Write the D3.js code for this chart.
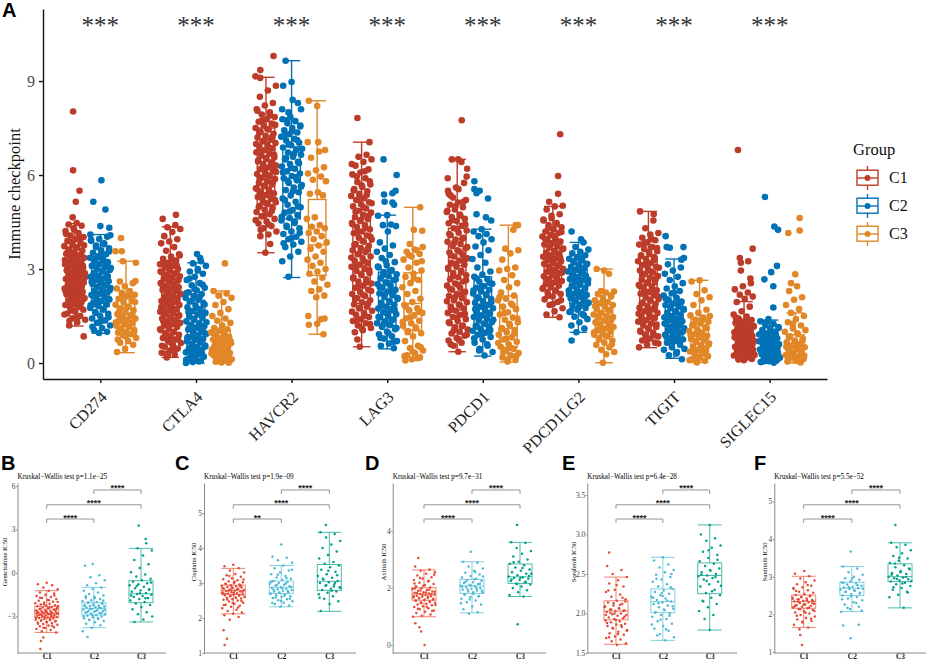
<!DOCTYPE html>
<html>
<head>
<meta charset="utf-8">
<style>body { margin: 0; background: #fff; }</style>
<script src="https://d3js.org/d3.v7.min.js"></script>
</head>
<body>
<div id="chart"></div>
<script>
// categories
const genes = ["CD274", "CTLA4", "HAVCR2", "LAG3", "PDCD1", "PDCD1LG2", "TIGIT", "SIGLEC15"];
const groups = ["C1", "C2", "C3"];
const immuneTicks = [0, 3, 6, 9];

const CD274_C1 = [[8.03,-.16],[6.15,-.16],[5.5,.45],[5.15,.1],[4.65,-.2],4.47,4.42,4.38,4.3,4.21,4.15,4.07,4.02,3.95,3.9,3.84,3.78,3.73,3.69,3.62,3.58,3.53,3.49,3.44,3.4,3.36,3.32,3.27,3.24,3.2,3.15,3.12,3.08,3.04,3,2.97,2.93,2.89,2.86,2.82,2.78,2.75,2.71,2.68,2.64,2.6,2.57,2.53,2.49,2.46,2.42,2.38,2.34,2.31,2.27,2.23,2.19,2.15,2.11,2.07,2.03,1.98,1.94,1.89,1.85,1.8,1.75,1.7,1.64,1.58,1.5,1.43,1.38,1.3,1.2,[.85,.85],4.25,4.12,3.98,3.87,3.76,3.66,3.55,3.46,3.38,3.29,3.22,3.17,3.1,3.02,2.95,2.91,2.84,2.73,2.66,2.55,2.44,2.36,2.29,2.21,2.13,2.05,1.96,1.87,1.78,1.67,1.55,1.46,1.35];
const CD274_C2 = [[5.83,.1],[5.15,-.67],[4.9,.48],[4.37,0],[4.32,.85],[4.1,-.95],[4.08,.95],4.03,3.96,3.9,3.82,3.75,3.66,3.6,3.52,3.47,3.41,3.36,3.31,3.25,3.21,3.16,3.1,3.06,3.01,2.97,2.92,2.87,2.83,2.78,2.75,2.7,2.65,2.61,2.57,2.52,2.48,2.43,2.39,2.35,2.3,2.26,2.21,2.17,2.12,2.08,2.03,1.98,1.92,1.87,1.82,1.76,1.7,1.63,1.57,1.5,1.42,1.36,1.28,1.2,1.12,1.05,1,.96,3.93,3.79,3.7,3.56,3.44,3.33,3.23,3.13,3.03,2.94,2.85,2.76,2.67,2.59,2.5,2.41,2.32,2.23,2.14,2.05,1.95,1.84,1.73,1.6,1.46,1.32,1.16];
const CD274_C3 = [[3.99,-.47],[3.57,-1],[3.57,-.4],3.25,3.2,[2.62,.9],2.6,2.55,2.45,2.38,2.3,2.24,2.18,2.12,2.05,1.98,1.93,1.86,1.8,1.75,1.68,1.62,1.56,1.52,1.47,1.42,1.38,1.33,1.28,1.24,1.19,1.15,1.1,1.05,1,.97,.92,.88,.8,.7,.65,.58,.45,.35,2.2,2.1,1.95,1.77,1.6,1.49,1.4,1.3,1.17,1.08,.95,.85,.75];
const CTLA4_C1 = [[4.73,.53],[4.6,-.73],4.4,4.33,4.28,4.18,4.05,3.95,3.88,3.82,3.7,3.58,3.47,3.4,3.33,3.27,3.2,3.15,3.1,3.05,3,2.95,2.9,2.86,2.81,2.77,2.72,2.68,2.63,2.59,2.55,2.5,2.46,2.42,2.37,2.33,2.29,2.24,2.2,2.16,2.12,2.07,2.03,1.98,1.94,1.9,1.85,1.81,1.77,1.72,1.68,1.64,1.6,1.55,1.5,1.46,1.42,1.37,1.33,1.28,1.24,1.2,1.15,1.1,1.05,1,.96,.9,.85,.8,.75,.7,.64,.58,.52,.46,.4,.33,.27,.18,3.43,3.3,3.23,3.12,3.02,2.92,2.83,2.74,2.65,2.57,2.48,2.39,2.31,2.22,2.14,2.05,1.96,1.87,1.79,1.7,1.62,1.52,1.44,1.35,1.26,1.18,1.08,.98,.88,.78,.67,.55,.43,.3];
const CTLA4_C2 = [[3.48,.1],[3.35,.4],3.25,3.18,3.1,3,2.92,2.85,2.75,2.65,2.55,2.48,2.4,2.32,2.26,2.2,2.14,2.08,2.02,1.96,1.9,1.84,1.78,1.72,1.66,1.6,1.55,1.49,1.44,1.38,1.33,1.27,1.22,1.17,1.12,1.07,1.02,.97,.93,.88,.83,.78,.74,.69,.65,.6,.56,.51,.47,.42,.38,.34,.29,.25,.2,.16,.12,.07,.03,[0,-.95],2.95,2.7,2.5,2.36,2.23,2.11,1.99,1.87,1.75,1.63,1.52,1.41,1.3,1.19,1.09,.99,.9,.81,.71,.62,.53,.44,.36,.27,.18,.1,.05];
const CTLA4_C3 = [[3.18,.32],2.3,2.22,2.15,2.08,1.95,1.85,1.72,1.6,1.5,1.42,1.35,1.28,1.2,1.12,1.08,1.03,.98,.94,.89,.84,.8,.75,.71,.67,.63,.59,.55,.51,.47,.43,.39,.35,.32,.28,.24,.2,.16,.12,.08,.04,.01,1.05,.96,.86,.77,.69,.61,.53,.45,.37,.3,.22,.14,.06,.02];
const HAVCR2_C1 = [[9.8,.72],[9.35,-.54],[9.15,-1],[9.1,-.55],8.85,8.7,8.5,8.3,8.22,8.1,8,7.93,7.85,7.78,7.7,7.64,7.58,7.5,7.45,7.38,7.32,7.25,7.2,7.13,7.07,7.02,6.96,6.9,6.85,6.79,6.73,6.68,6.62,6.57,6.51,6.46,6.41,6.35,6.3,6.24,6.19,6.13,6.08,6.03,5.97,5.92,5.87,5.81,5.75,5.7,5.64,5.58,5.53,5.47,5.42,5.36,5.3,5.24,5.18,5.13,5.07,5.01,4.95,4.89,4.82,4.75,4.68,4.6,4.52,4.45,4.37,4.3,4.2,4.1,4.05,[3.8,.4],3.52,8.05,7.9,7.75,7.6,7.47,7.35,7.22,7.1,6.99,6.87,6.76,6.65,6.54,6.43,6.32,6.21,6.1,5.99,5.89,5.78,5.67,5.55,5.44,5.33,5.21,5.1,4.98,4.85,4.7,4.56,4.42,4.25];
const HAVCR2_C2 = [[9.65,-.57],[8.97,0],[8.85,-.8],[8.4,.1],[8.3,.6],[8.1,-.9],[8.1,.9],[8,-.3],7.85,7.78,7.72,7.65,7.58,7.5,7.43,7.36,7.3,7.22,7.16,7.1,7.03,6.95,6.88,6.8,6.72,6.65,6.58,6.5,6.42,6.35,6.27,6.2,6.12,6.05,5.97,5.9,5.83,5.75,5.68,5.6,5.52,5.45,5.35,5.25,5.15,5.05,4.97,4.88,4.8,4.72,4.63,4.55,4.47,4.38,4.3,4.2,4.12,4.03,3.95,3.87,3.78,3.7,3.55,3.4,3.25,[2.75,-.3],7.75,7.55,7.4,7.25,7.12,6.98,6.84,6.68,6.54,6.38,6.23,6.08,5.93,5.79,5.63,5.48,5.2,5,4.84,4.67,4.5,4.34,4.16,3.99,3.82];
const HAVCR2_C3 = [[8.37,-.8],[8.2,0],[7.05,-.9],[7.05,.1],[6.8,.75],6.75,6.55,6.25,6.15,6.05,5.95,5.85,5.8,5.45,5.4,5.35,4.65,4.6,4.4,4.35,4.3,4.2,4.15,4.05,3.95,3.85,3.75,3.65,3.55,3.4,3.3,3.2,3.1,3,2.92,2.85,2.72,2.6,2.5,2.35,2.3,2.15,2.1,1.5,1.4,[1.22,-.8],[1.25,0],[1.42,.7],[.92,.6]];
const LAG3_C1 = [[7.82,-.4],[7.05,.75],6.65,6.58,6.5,6.42,6.3,6.18,6.08,6.02,5.9,5.78,5.7,5.62,5.55,5.48,5.4,5.33,5.26,5.2,5.13,5.07,5,4.93,4.86,4.8,4.73,4.66,4.6,4.53,4.47,4.4,4.34,4.27,4.2,4.14,4.07,4,3.94,3.87,3.8,3.74,3.67,3.6,3.54,3.47,3.4,3.34,3.27,3.2,3.14,3.07,3,2.94,2.87,2.8,2.74,2.67,2.6,2.54,2.47,2.4,2.34,2.27,2.2,2.14,2.07,2,1.94,1.87,1.8,1.74,1.67,1.6,1.54,1.47,1.4,1.34,1.27,1.2,1.12,1.05,.98,[.75,-.4],.52,6.35,6.12,5.95,5.8,5.67,5.51,5.36,5.23,5.1,4.97,4.83,4.7,4.56,4.43,4.3,4.17,4.03,3.9,3.77,3.63,3.5,3.37,3.24,3.1,2.97,2.84,2.7,2.57,2.44,2.3,2.17,2.04,1.9,1.77,1.64,1.5,1.37,1.24,1.1];
const LAG3_C2 = [[6.5,-.35],[6,.9],[5.5,.8],[5.42,.5],[5.38,-.3],[5.15,-.25],[5.12,.5],5.05,[4.72,0],4.7,4.42,4.4,4.37,4.2,3.85,3.75,3.65,3.55,3.45,3.35,3.22,3.12,3.05,2.97,2.9,2.83,2.77,2.7,2.64,2.58,2.52,2.46,2.4,2.34,2.28,2.22,2.16,2.1,2.04,1.98,1.92,1.86,1.8,1.74,1.68,1.62,1.56,1.5,1.45,1.39,1.33,1.27,1.21,1.15,1.08,1,.92,.85,.78,.7,.62,.55,.47,3.25,3.08,2.94,2.8,2.67,2.55,2.43,2.31,2.19,2.07,1.95,1.83,1.71,1.59,1.47,1.36,1.24,1.12,.95,.8,.67];
const LAG3_C3 = [[4.97,.7],[4.25,.1],[4.22,.9],3.8,3.7,3.62,3.55,3.48,3.4,3.3,3.2,3.05,2.95,2.85,2.75,2.65,2.55,2.42,2.3,2.2,2.05,1.95,1.85,1.75,1.68,1.6,1.52,1.43,1.35,1.27,1.18,1.1,1.02,.95,.85,.7,.55,.48,.4,.32,.25,.18,.12,[.08,-.7],3.6,3.45,3.25,2.7,1.8,1.64,1.47,1.31,1.14,.98,.5,.36,.22,.15];
const PDCD1_C1 = [[7.75,.43],[6.5,-.5],[6.5,.1],[6.42,.4],6.2,[5.95,.9],[5.9,-.9],5.75,5.6,5.5,[5.4,-.8],5.28,5.2,5.12,5.05,4.97,4.9,4.82,4.74,4.66,4.6,4.53,4.46,4.38,4.3,4.23,4.16,4.08,4,3.94,3.87,3.8,3.73,3.66,3.6,3.53,3.47,3.4,3.34,3.27,3.2,3.14,3.07,3,2.94,2.87,2.8,2.74,2.67,2.6,2.54,2.47,2.4,2.34,2.27,2.2,2.14,2.07,2,1.94,1.87,1.8,1.74,1.67,1.6,1.54,1.47,1.4,1.34,1.27,1.2,1.14,1.07,1,.94,.87,.8,.72,.65,.55,[.36,.1],5.55,5.35,5.15,5,4.86,4.7,4.56,4.42,4.27,4.12,3.97,3.84,3.7,3.56,3.43,3.3,3.17,3.04,2.9,2.77,2.64,2.5,2.37,2.24,2.1,1.97,1.84,1.7,1.57,1.44,1.3,1.17,1.04,.9,.76,.6];
const PDCD1_C2 = [[5.8,-.8],[5.55,-.8],[5.5,-.3],[5.42,-.6],[5.25,.5],[4.75,-.6],[4.65,.3],[4.55,.8],4.27,4.2,4.12,4.05,3.95,3.85,3.72,3.6,3.45,3.32,3.2,3.05,2.92,2.82,2.75,2.68,2.6,2.53,2.46,2.4,2.34,2.28,2.22,2.16,2.1,2.04,1.98,1.92,1.86,1.8,1.75,1.69,1.63,1.58,1.52,1.47,1.41,1.36,1.3,1.25,1.19,1.14,1.08,1.03,.97,.9,.83,.75,.65,.55,.45,.35,.24,2.7,2.56,2.43,2.31,2.19,2.07,1.95,1.83,1.72,1.6,1.49,1.38,1.27,1.16,1.05,.93,.79,.6,.4];
const PDCD1_C3 = [[4.4,.7],[4.4,.9],4.25,3.65,3.6,3.5,3.3,3.05,3,2.95,2.8,2.65,2.55,2.42,2.25,2.15,2.05,2,1.9,1.8,1.72,1.62,1.55,1.45,1.38,1.3,1.2,1.12,1.05,.98,.9,.82,.75,.68,.6,.52,.45,.38,.32,.25,.18,.1,.05,2.1,1.85,1.6,1.42,1.25,1.08,.94,.78,.64,.48,.35,.22,.12];
const PDCD1LG2_C1 = [[7.3,.7],[5.97,.5],[5.4,.5],[5.15,-.35],5.02,5,4.9,4.75,4.62,4.55,4.47,4.4,4.33,4.27,4.2,4.15,4.09,4.04,3.98,3.93,3.88,3.83,3.78,3.73,3.68,3.63,3.58,3.53,3.48,3.44,3.39,3.34,3.29,3.25,3.2,3.15,3.1,3.06,3.01,2.96,2.91,2.87,2.82,2.77,2.72,2.67,2.62,2.57,2.52,2.47,2.42,2.37,2.32,2.26,2.2,2.12,2.03,1.95,1.85,1.75,1.65,1.55,1.46,4.7,4.58,4.43,4.3,4.18,4.06,3.96,3.85,3.75,3.65,3.55,3.46,3.36,3.27,3.17,3.08,2.98,2.89,2.79,2.69,2.59,2.49,2.39,2.29,2.15,2,1.88];
const PDCD1LG2_C2 = [[4.2,-.65],[3.95,.25],3.85,3.7,3.62,3.55,3.5,3.44,3.38,3.33,3.28,3.22,3.17,3.12,3.07,3.02,2.97,2.92,2.87,2.83,2.78,2.73,2.68,2.64,2.59,2.54,2.5,2.45,2.4,2.36,2.31,2.26,2.21,2.17,2.12,2.07,2.02,1.97,1.92,1.87,1.82,1.76,1.7,1.63,1.56,1.48,1.4,1.3,1.2,1.1,.98,[.72,-.65],3.35,3.25,3.14,3.04,2.94,2.85,2.75,2.66,2.56,2.47,2.38,2.28,2.19,2.09,2,1.89,1.79,1.66,1.52];
const PDCD1LG2_C3 = [[3,-.7],[2.95,0],2.85,2.3,2.28,2.25,2.2,2.15,2.08,2,1.95,1.9,1.85,1.8,1.73,1.67,1.6,1.55,1.5,1.45,1.4,1.35,1.3,1.25,1.2,1.15,1.1,1.05,1,.95,.9,.85,.8,.72,.65,.58,.5,.42,.35,.28,[.01,-.1],2.12,1.98,1.82,1.7,1.57,1.47,1.37,1.27,1.17,1.07,.97,.87,.75,.6];
const TIGIT_C1 = [[4.84,-.8],[4.75,.5],4.55,4.3,4.15,4.1,4,3.92,3.85,3.78,3.7,3.64,3.57,3.5,3.44,3.38,3.31,3.25,3.19,3.13,3.07,3.01,2.95,2.89,2.84,2.78,2.72,2.66,2.61,2.55,2.49,2.44,2.38,2.32,2.27,2.21,2.16,2.1,2.04,1.99,1.93,1.88,1.82,1.76,1.71,1.65,1.6,1.54,1.49,1.43,1.37,1.32,1.26,1.2,1.15,1.09,1.03,.97,.91,.85,.78,.72,.65,.58,.5,3.95,3.81,3.67,3.54,3.41,3.28,3.16,3.04,2.92,2.81,2.69,2.58,2.46,2.35,2.24,2.13,2.02,1.9,1.79,1.68,1.57,1.46,1.35,1.23,1.12,1,.88,.75,.62];
const TIGIT_C2 = [[4.05,-.8],[3.7,-.7],[3.68,-.4],[3.7,.9],3.35,[3.3,.7],3.15,3.05,2.95,2.85,2.75,2.65,2.55,2.45,2.38,2.3,2.22,2.15,2.08,2.02,1.96,1.9,1.85,1.8,1.75,1.7,1.65,1.6,1.55,1.5,1.46,1.41,1.37,1.33,1.28,1.24,1.2,1.15,1.11,1.07,1.03,.98,.94,.9,.85,.8,.75,.7,.65,.58,.5,.42,.35,.25,.12,2.25,2.05,1.92,1.82,1.72,1.62,1.52,1.43,1.35,1.26,1.17,1.09,1,.92,.83,.72,.6,.45,.3];
const TIGIT_C3 = [2.64,2.6,2.32,2.2,2.1,2,1.85,1.7,1.6,1.52,1.45,1.38,1.32,1.26,1.2,1.14,1.08,1.02,.97,.92,.87,.82,.77,.72,.67,.62,.57,.52,.47,.42,.37,.32,.27,.22,.17,.12,.07,.02,1.5,1.35,1.23,1.11,.99,.89,.79,.69,.59,.49,.39,.29,.19,.09];
const SIGLEC15_C1 = [[6.8,-.58],[3.65,.82],[3.35,-.4],[3.25,.4],[3.2,-.3],[2.95,-.3],[2.7,.6],2.55,2.45,2.35,2.25,2.18,2.12,2.05,1.95,1.8,1.65,1.55,1.48,1.42,1.37,1.32,1.28,1.24,1.2,1.16,1.12,1.09,1.05,1.01,.98,.94,.91,.87,.84,.8,.77,.73,.7,.66,.63,.59,.56,.52,.49,.45,.42,.38,.35,.31,.28,.24,.21,.17,.13,.09,1.45,1.34,1.26,1.18,1.1,1.03,.96,.89,.82,.75,.68,.61,.54,.47,.4,.33,.26,.19,.11];
const SIGLEC15_C2 = [[5.3,-.45],[4.36,.45],[4.25,.8],[3.1,.7],[2.9,.15],[2.67,-.5],[2.45,.35],[1.77,.35],1.4,1.33,1.25,1.2,1.15,1.1,1.05,1,.95,.91,.87,.83,.79,.75,.71,.67,.64,.6,.57,.53,.5,.46,.43,.4,.36,.33,.3,.27,.24,.21,.18,.15,.12,.09,.06,.03,.01,1.28,1.12,1.02,.93,.85,.77,.69,.62,.55,.48,.41,.35,.29,.22,.16,.1,.05];
const SIGLEC15_C3 = [[4.63,.42],[4.23,.42],[4.15,-.66],[2.83,0],[2.55,-.4],2.45,2.3,2.1,2.02,1.85,1.72,1.6,1.5,1.4,1.3,1.2,1.1,1,.92,.85,.78,.72,.66,.6,.55,.5,.45,.4,.35,.3,.25,.21,.17,.13,.09,.05,.02,1.25,1.05,.95,.82,.7,.63,.52,.42,.33,.23,.15,.07];

const immunePoints = [
  [CD274_C1, CD274_C2, CD274_C3], [CTLA4_C1, CTLA4_C2, CTLA4_C3],
  [HAVCR2_C1, HAVCR2_C2, HAVCR2_C3], [LAG3_C1, LAG3_C2, LAG3_C3],
  [PDCD1_C1, PDCD1_C2, PDCD1_C3], [PDCD1LG2_C1, PDCD1LG2_C2, PDCD1LG2_C3],
  [TIGIT_C1, TIGIT_C2, TIGIT_C3], [SIGLEC15_C1, SIGLEC15_C2, SIGLEC15_C3]
];

// panel A boxes: low whisker, q1, median, q3, high whisker
const immuneBoxes = [
  [[1.18,2,2.6,3.4,4.45],[.95,1.8,2.5,3.3,4.1],[.33,1,1.45,2.1,3.25]],
  [[.18,1.2,2,2.9,4.35],[0,.5,1.05,2,3.2],[0,.3,.65,1.05,2.3]],
  [[3.52,5.05,6.25,7.5,9.12],[2.73,4.6,5.9,6.9,9.65],[.92,2.8,3.77,5.22,8.37]],
  [[.52,1.9,3.1,4.6,7.05],[.45,1.2,1.8,2.9,4.72],[.1,1.05,1.9,2.88,4.97]],
  [[.36,1.7,3.1,4.3,6.5],[.22,.95,1.5,2.75,4.27],[.03,.5,1.1,2.14,4.4]],
  [[1.46,2.6,3.2,3.9,5],[.98,1.9,2.45,3,3.85],[.01,.85,1.3,1.9,3]],
  [[.49,1.4,2.5,3.4,4.84],[.15,.8,1.3,1.95,3.32],[.02,.35,.75,1.4,2.64]],
  [[.1,.5,.9,1.35,1.96],[0,.3,.6,.95,1.37],[0,.2,.45,.9,1.6]]
];

// drug panels
const panelLetters = ["B", "C", "D", "E", "F"];
const drugTitles = ["Gemcitabine IC50", "Cisplatin IC50", "Axitinib IC50", "Sorafenib IC50", "Sunitinib IC50"];
const drugTests = ["p=1.1e\u221225", "p=1.9e\u221209", "p=9.7e\u221231", "p=6.4e\u221228", "p=5.5e\u221252"];
const drugDomains = [[-5.52, 6.21], [1, 5.86], [-.28, 5.68], [1.5, 3.65], [.97, 5.49]];
const drugTicks = [[-3, 0, 3, 6], [1, 2, 3, 4, 5], [0, 2, 4], [1.5, 2, 2.5, 3, 3.5], [1, 2, 3, 4, 5]];
const drugSignif = [
  ["****", "****", "****"], ["**", "****", "****"], ["****", "****", "****"],
  ["****", "****", "****"], ["****", "****", "****"]
];
const comparisons = [["C1", "C2"], ["C1", "C3"], ["C2", "C3"]];

const B_C1 = [-.68,-.78,-.85,-1,-1.12,-1.22,-1.35,-1.42,-1.5,-1.58,-1.65,-1.72,-1.8,-1.86,-1.92,-1.98,-2.03,-2.08,-2.13,-2.18,-2.22,-2.26,-2.3,-2.34,-2.38,-2.41,-2.45,-2.48,-2.52,-2.55,-2.58,-2.61,-2.64,-2.67,-2.7,-2.73,-2.76,-2.78,-2.8,-2.83,-2.86,-2.89,-2.92,-2.95,-2.98,-3.01,-3.04,-3.07,-3.1,-3.14,-3.18,-3.22,-3.26,-3.3,-3.34,-3.38,-3.42,-3.47,-3.52,-3.57,-3.62,-3.68,-3.74,-3.8,-3.87,-3.94,-4.02,-4.1,[-4.45,-.3],[-4.7,-.5],[-5.25,-.55],-2.15,-2.28,-2.39,-2.46,-2.53,-2.6,-2.65,-2.71,-2.75,-2.81,-2.85,-2.9,-2.96,-3.03,-3.09,-3.16,-3.24,-3.32,-3.4,-3.5,-3.65,-3.78,-2,-1.88,-1.7,-1.55,-2.68,-2.79,-2.87,-2.94,-2.5,-2.43];
const B_C2 = [[.62,-.1],.5,-.15,-.3,-.5,-.7,-.85,-1,-1.1,-1.22,-1.35,-1.45,-1.55,-1.65,-1.72,-1.8,-1.88,-1.94,-2,-2.05,-2.1,-2.15,-2.2,-2.24,-2.28,-2.32,-2.36,-2.4,-2.44,-2.48,-2.52,-2.56,-2.6,-2.64,-2.68,-2.72,-2.76,-2.8,-2.85,-2.9,-2.95,-3,-3.06,-3.12,-3.18,-3.25,-3.32,-3.4,-3.5,-3.6,-3.77,-4.02,[-4.42,-.55],-2.02,-2.12,-2.22,-2.3,-2.38,-2.46,-2.54,-2.62,-2.7,-2.78,-2.88,-2.98,-3.1,-3.22,-1.9,-1.75,-1.6];
const B_C3 = [[3.28,-.2],[2.35,.4],[2.05,.45],1.7,1.55,1.2,.9,.6,.35,.05,-.1,-.25,-.4,-.5,-.6,-.7,-.78,-.85,-.95,-1.05,-1.12,-1.2,-1.3,-1.38,-1.45,-1.5,-1.58,-1.65,-1.72,-1.8,-1.9,-2,-2.1,-2.2,-2.35,-2.5,-2.7,-2.85,-3,-3.2,-3.38,-1.15,-1.4,-1.55,-1.75,-.9,-.65];
const C_C1 = [3.52,3.48,3.42,3.36,3.3,3.26,3.22,3.18,3.14,3.11,3.08,3.05,3.02,3,2.98,2.96,2.94,2.92,2.9,2.89,2.87,2.86,2.84,2.83,2.81,2.8,2.79,2.77,2.76,2.74,2.73,2.71,2.7,2.68,2.67,2.65,2.64,2.62,2.61,2.59,2.58,2.56,2.54,2.52,2.5,2.47,2.44,2.41,2.38,2.35,2.32,2.28,2.24,2.2,2.16,2.12,2.08,2.03,1.95,[1.65,-.85],[1.41,-.55],[1.23,-.75],2.93,2.88,2.85,2.82,2.78,2.75,2.72,2.69,2.66,2.63,2.6,2.57,2.53,2.49,2.43,2.37,2.3,3.2,3.1,3.04,2.97,2.91,2.81,2.71];
const C_C2 = [[4.1,0],3.75,3.72,3.65,3.58,3.5,3.42,3.36,3.3,3.25,3.2,3.16,3.12,3.09,3.06,3.03,3,2.98,2.95,2.93,2.91,2.88,2.86,2.84,2.82,2.8,2.78,2.76,2.74,2.72,2.7,2.67,2.65,2.62,2.6,2.57,2.54,2.51,2.48,2.44,2.4,2.36,2.32,3.04,2.99,2.94,2.89,2.85,2.81,2.77,2.73,2.69,2.64,2.59,2.55,2.49,2.43,3.14,3.24,3.38];
const C_C3 = [[4.66,-.3],4.45,4.4,4.3,4.2,4.1,4,3.9,3.8,3.7,3.6,3.55,3.5,3.45,3.38,3.32,3.25,3.2,3.15,3.1,3.06,3.02,3,2.96,2.92,2.88,2.84,2.8,2.76,2.72,2.68,2.62,2.55,2.48,2.4,2.2,3.01,2.94,2.86,2.78,3.12,3.22,3.35,2.58,2.9];
const D_C1 = [[3.05,-.5],2.75,2.65,2.6,2.55,2.5,2.44,2.38,2.33,2.28,2.23,2.18,2.14,2.1,2.06,2.02,1.99,1.96,1.93,1.9,1.88,1.85,1.83,1.81,1.79,1.77,1.75,1.73,1.71,1.69,1.67,1.65,1.63,1.6,1.58,1.56,1.53,1.5,1.48,1.45,1.42,1.39,1.36,1.33,1.29,1.25,1.21,1.17,1.12,1.07,1.03,.99,[.76,-.75],[.62,-.4],[.47,-.25],[0,.05],1.98,1.94,1.91,1.87,1.84,1.82,1.78,1.76,1.72,1.7,1.66,1.62,1.59,1.55,1.51,1.46,1.4,1.34,1.27,1.19,2.08,2.16,2.25,2.35,2.46];
const D_C2 = [[3.27,-.1],2.92,2.88,2.75,2.68,2.6,2.53,2.47,2.42,2.37,2.32,2.28,2.24,2.2,2.17,2.14,2.11,2.08,2.06,2.03,2,1.97,1.94,1.91,1.88,1.84,1.8,1.76,1.72,1.68,1.62,1.56,1.5,1.42,1.35,1.25,1.15,1.1,2.4,2.3,2.22,2.15,2.09,2.04,1.99,1.95,1.9,1.85,1.78,1.7,1.6,1.46,2.56];
const D_C3 = [[4.21,-.25],3.6,3.58,3.4,3.3,3.2,3.1,3,2.92,2.85,2.8,2.72,2.65,2.6,2.55,2.5,2.45,2.4,2.38,2.35,2.32,2.28,2.24,2.2,2.16,2.12,2.05,2,1.92,1.85,1.75,1.7,[.73,-.2],2.42,2.36,2.3,2.22,2.14,2.5,2.7,2.9];
const E_C1 = [[2.77,-.6],2.6,2.55,2.5,2.46,2.42,2.38,2.34,2.3,2.27,2.24,2.21,2.18,2.16,2.14,2.12,2.1,2.08,2.07,2.05,2.04,2.03,2.02,2,1.99,1.98,1.97,1.95,1.94,1.93,1.91,1.9,1.89,1.87,1.86,1.84,1.83,1.81,1.79,1.77,1.75,1.73,1.71,1.69,1.67,1.65,1.62,1.6,2.29,2.2,2.13,2.09,2.06,2.01,1.96,1.92,1.88,1.85,1.82,1.78,1.74,1.7,2.03,2,1.98,2.11,2.05,2.15,2.36];
const E_C2 = [2.71,2.67,2.62,2.58,2.55,2.52,2.49,2.46,2.43,2.4,2.37,2.34,2.31,2.29,2.27,2.25,2.23,2.21,2.19,2.17,2.15,2.14,2.12,2.1,2.08,2.06,2.04,2.02,2,1.98,1.96,1.93,1.9,1.87,1.84,1.81,1.78,1.74,1.7,1.66,2.44,2.33,2.26,2.2,2.16,2.13,2.09,2.05,2.01,1.97,1.92,1.86,1.8,1.72,2.5,2.22];
const E_C3 = [3.12,3,2.95,2.92,2.86,2.83,2.78,2.74,2.7,2.66,2.63,2.6,2.57,2.54,2.52,2.5,2.48,2.47,2.45,2.43,2.4,2.37,2.34,2.3,2.26,2.23,2.2,2.16,2.12,2.08,2.03,1.98,1.93,[1.79,0],2.55,2.49,2.46,2.41,2.35,2.28,2.15,2.68,2.8];
const F_C1 = [[3.15,.05],3.08,3.01,2.95,2.9,2.85,2.8,2.76,2.72,2.68,2.64,2.6,2.57,2.54,2.51,2.48,2.46,2.44,2.42,2.4,2.38,2.36,2.34,2.32,2.3,2.28,2.26,2.24,2.22,2.2,2.18,2.16,2.14,2.11,2.08,2.05,2.02,1.98,1.94,1.9,1.86,1.82,1.78,1.72,1.65,1.6,[1.45,-.3],[1.18,-.15],2.62,2.5,2.45,2.41,2.37,2.33,2.29,2.25,2.21,2.17,2.13,2.09,2.04,1.96,1.88,1.8,2.7,2.78,2.39,2.35,2.27,2.23];
const F_C2 = [[3.67,-.1],3.27,3.22,3.12,3.05,3,2.96,2.92,2.88,2.85,2.82,2.79,2.76,2.73,2.71,2.69,2.67,2.65,2.62,2.6,2.57,2.54,2.5,2.46,2.42,2.37,2.32,2.26,2.2,2.14,2.07,[1.7,-.75],[1.72,.6],[1.36,-.1],2.95,2.83,2.77,2.72,2.68,2.64,2.59,2.55,2.48,2.4,2.3,2.17,2.1];
const F_C3 = [[4.37,-.4],3.9,3.85,3.78,3.7,3.62,3.55,3.48,3.42,3.36,3.3,3.25,3.2,3.15,3.1,3.07,3.03,3,2.98,2.96,2.93,2.9,2.87,2.84,2.8,2.75,2.7,2.65,2.6,2.52,2.45,2.17,3.35,3.22,3.12,3.05,2.99,2.94,2.88,2.82,2.72,2.58,3.5];

const drugPoints = [[B_C1, B_C2, B_C3], [C_C1, C_C2, C_C3], [D_C1, D_C2, D_C3], [E_C1, E_C2, E_C3], [F_C1, F_C2, F_C3]];
const drugBoxes = [
  [[-4.1,-3.08,-2.78,-2.3,-1.22],[-3.77,-2.9,-2.44,-2.05,-.99],[-3.38,-2.05,-1.43,-.53,1.7]],
  [[2.12,2.67,2.78,2.94,3.42],[2.32,2.7,2.88,3.06,3.5],[2.19,2.79,3.05,3.53,4.45]],
  [[.99,1.57,1.79,2.01,2.63],[1.13,1.81,2.07,2.3,2.92],[1.7,2.16,2.39,2.84,3.6]],
  [[1.61,1.92,2.03,2.16,2.46],[1.66,2.01,2.15,2.31,2.71],[1.79,2.25,2.48,2.64,3.12]],
  [[1.65,2.16,2.34,2.51,3.01],[2.07,2.5,2.69,2.85,3.27],[2.17,2.87,3,3.34,3.9]]
];

// colours
const immuneColor = d3.scaleOrdinal().domain(groups).range(["#BC3C29", "#0072B5", "#E18727"]);
const drugColor = d3.scaleOrdinal().domain(groups).range(["#E64B35", "#4DBBD5", "#00A087"]);

const serif = "'Liberation Serif', serif";

const svg = d3.select("#chart")
  .append("svg")
  .attr("width", 927)
  .attr("height", 664)
  .style("display", "block")
  .style("background", "#fff");

// value of a point and its sideways spread (-1 to 1); points with no read jitter get a fixed spread by index
const pointValue = d => Array.isArray(d) ? d[0] : d;
const pointJitter = (d, i) => Array.isArray(d) ? d[1] : ((i * 0.618034 + 0.5) % 1) * 2 - 1;

// one box with whiskers, caps are left out in the legend keys
const drawBox = (g, cx, stats, y, color, width, lineWidth, opacity, caps = true) => {
  const [low, q1, median, q3, high] = stats;
  const box = g.append("g")
    .attr("fill", "none")
    .attr("stroke", color)
    .attr("stroke-width", lineWidth)
    .attr("stroke-opacity", opacity);
  box.append("line").attr("x1", cx).attr("x2", cx).attr("y1", y(q3)).attr("y2", y(high));
  box.append("line").attr("x1", cx).attr("x2", cx).attr("y1", y(q1)).attr("y2", y(low));
  (caps ? [low, high, median] : [median]).forEach(v => {
    box.append("line")
      .attr("x1", cx - width / 2).attr("x2", cx + width / 2)
      .attr("y1", y(v)).attr("y2", y(v));
  });
  box.append("rect")
    .attr("x", cx - width / 2).attr("y", y(q3))
    .attr("width", width).attr("height", y(q1) - y(q3));
};

// ---- panel A ----
const createImmunePanel = () => {
  const xScale = d3.scalePoint().domain(genes).range([43, 827]).padding(0.6);
  const yScale = d3.scaleLinear().domain([-0.51, 11.3]).range([379, 9]);
  const dodge = d3.scalePoint().domain(groups).range([-25.6, 25.6]);
  const jitter = d3.scaleLinear().domain([-1, 1]).range([-10.5, 10.5]);

  const g = svg.append("g");

  genes.forEach((gene, gi) => {
    groups.forEach((group, si) => {
      const cx = xScale(gene) + dodge(group);
      drawBox(g, cx, immuneBoxes[gi][si], yScale, immuneColor(group), 17.5, 1.4, 1);
      g.append("g")
        .selectAll("circle")
        .data(immunePoints[gi][si])
        .join("circle")
        .attr("cx", (d, i) => cx + jitter(pointJitter(d, i)))
        .attr("cy", d => yScale(pointValue(d)))
        .attr("r", 3.3)
        .attr("fill", immuneColor(group));
    });
    g.append("text")
      .attr("x", xScale(gene))
      .attr("y", yScale(10.5))
      .attr("text-anchor", "middle")
      .attr("font-family", serif)
      .attr("font-size", 25)
      .attr("fill", "#333")
      .text("***");
  });

  const yAxis = g.append("g")
    .attr("transform", "translate(43,0)")
    .call(d3.axisLeft(yScale).tickValues(immuneTicks).tickSize(4).tickSizeOuter(0).tickPadding(4));
  yAxis.selectAll("text").attr("font-family", serif).attr("font-size", 16).attr("fill", "#4d4d4d");

  const xAxis = g.append("g")
    .attr("transform", "translate(0,379)")
    .call(d3.axisBottom(xScale).tickSize(4).tickSizeOuter(0));
  xAxis.selectAll("text")
    .attr("font-family", serif)
    .attr("font-size", 16)
    .attr("fill", "#222")
    .attr("text-anchor", "end")
    .attr("dy", 0)
    .attr("y", 0)
    .attr("transform", "translate(7,19) rotate(-45)");

  [yAxis, xAxis].forEach(a => a.selectAll(".domain, line").attr("stroke", "#111").attr("stroke-width", 1.4));

  g.append("text")
    .attr("transform", "translate(20,194) rotate(-90)")
    .attr("text-anchor", "middle")
    .attr("font-family", serif)
    .attr("font-size", 16.5)
    .attr("fill", "#111")
    .text("Immune checkpoint");

  g.append("text")
    .attr("x", 2).attr("y", 17)
    .attr("font-family", "'Liberation Sans', sans-serif")
    .attr("font-weight", "bold")
    .attr("font-size", 20)
    .text("A");

  // legend
  const legendY = d3.scalePoint().domain(groups).range([178, 234]);
  const legend = g.append("g");
  legend.append("text")
    .attr("x", 853).attr("y", 155)
    .attr("font-family", serif).attr("font-size", 16.5).attr("fill", "#111")
    .text("Group");
  groups.forEach(group => {
    const ky = d3.scaleLinear().domain([-1, 1]).range([legendY(group) + 12, legendY(group) - 12]);
    drawBox(legend, 867.5, [-1, -0.6, 0, 0.65, 1], ky, immuneColor(group), 21, 1.4, 1, false);
    legend.append("circle")
      .attr("cx", 867.5).attr("cy", legendY(group)).attr("r", 3)
      .attr("fill", immuneColor(group));
    legend.append("text")
      .attr("x", 889).attr("y", legendY(group) + 5)
      .attr("font-family", serif).attr("font-size", 16).attr("fill", "#111")
      .text(group);
  });
};

// ---- panels B to F ----
const panelLeft = [17.5, 204, 392.7, 587.3, 774.3];
const panelRight = [166, 356, 546, 737, 926];
const panelFirst = [46.7, 233.3, 424, 616, 803.7];
const panelLast = [141, 329.3, 520, 709.7, 900];
const letterX = [1, 175, 365, 562, 754];
const drugTitleX = [7, 196, 385.5, 576, 766.5];
const panelTop = 483;
const panelBottom = 653;

const createDrugPanel = k => {
  const xScale = d3.scalePoint().domain(groups).range([panelFirst[k], panelLast[k]]);
  const yScale = d3.scaleLinear().domain(drugDomains[k]).range([panelBottom, panelTop]);
  const jitter = d3.scaleLinear().domain([-1, 1]).range([-11.5, 11.5]);
  const npc = d3.scaleLinear().domain([0, 1]).range([panelBottom, panelTop]);

  const g = svg.append("g");

  groups.forEach((group, si) => {
    const cx = xScale(group);
    drawBox(g, cx, drugBoxes[k][si], yScale, drugColor(group), 24, 1, 0.7);
    g.append("g")
      .selectAll("circle")
      .data(drugPoints[k][si])
      .join("circle")
      .attr("cx", (d, i) => cx + jitter(pointJitter(d, i)))
      .attr("cy", d => yScale(pointValue(d)))
      .attr("r", 1.25)
      .attr("fill", drugColor(group));
  });

  // significance brackets
  const levels = [0.788, 0.872, 0.959];
  comparisons.forEach((pair, c) => {
    const x1 = xScale(pair[0]);
    const x2 = xScale(pair[1]);
    const level = npc(levels[c]);
    g.append("path")
      .attr("d", d3.line()([[x1, level + 4], [x1, level], [x2, level], [x2, level + 4]]))
      .attr("fill", "none")
      .attr("stroke", "#8a8a8a")
      .attr("stroke-width", 0.9);
    g.append("text")
      .attr("x", (x1 + x2) / 2)
      .attr("y", level + 1.5)
      .attr("text-anchor", "middle")
      .attr("font-family", "'Liberation Sans', sans-serif")
      .attr("font-weight", "bold")
      .attr("font-size", 9)
      .attr("fill", "#222")
      .text(drugSignif[k][c]);
  });

  const yAxis = g.append("g")
    .attr("transform", `translate(${panelLeft[k]},0)`)
    .call(d3.axisLeft(yScale).tickValues(drugTicks[k]).tickFormat(d3.format(k === 3 ? ".1f" : "d")).tickSize(1.5).tickSizeOuter(0).tickPadding(0.5));
  yAxis.selectAll("text").attr("font-family", serif).attr("font-size", 7.5).attr("fill", "#444");

  const xAxis = g.append("g")
    .attr("transform", `translate(0,${panelBottom})`)
    .call(d3.axisBottom(xScale).tickSize(0).tickSizeOuter(0).tickPadding(1));
  xAxis.select(".domain").remove();
  xAxis.selectAll("text").attr("font-family", serif).attr("font-weight", "bold").attr("font-size", 7.4).attr("fill", "#111");

  yAxis.selectAll(".domain, line").attr("stroke", "#8a8a8a").attr("stroke-width", 1);
  g.append("line")
    .attr("x1", panelLeft[k]).attr("x2", panelRight[k])
    .attr("y1", panelBottom).attr("y2", panelBottom)
    .attr("stroke", "#8a8a8a")
    .attr("stroke-width", 1);

  g.append("text")
    .attr("x", panelLeft[k])
    .attr("y", 479)
    .attr("font-family", serif)
    .attr("font-size", 7.2)
    .attr("fill", "#000")
    .text(`Kruskal\u2212Wallis test ${drugTests[k]}`);

  g.append("text")
    .attr("transform", `translate(${drugTitleX[k]},562) rotate(-90)`)
    .attr("text-anchor", "middle")
    .attr("font-family", serif)
    .attr("font-size", 6.6)
    .attr("fill", "#000")
    .text(drugTitles[k]);

  g.append("text")
    .attr("x", letterX[k]).attr("y", 469.5)
    .attr("font-family", "'Liberation Sans', sans-serif")
    .attr("font-weight", "bold")
    .attr("font-size", 20)
    .text(panelLetters[k]);
};

createImmunePanel();
panelLetters.forEach((letter, k) => createDrugPanel(k));
</script>
</body>
</html>
